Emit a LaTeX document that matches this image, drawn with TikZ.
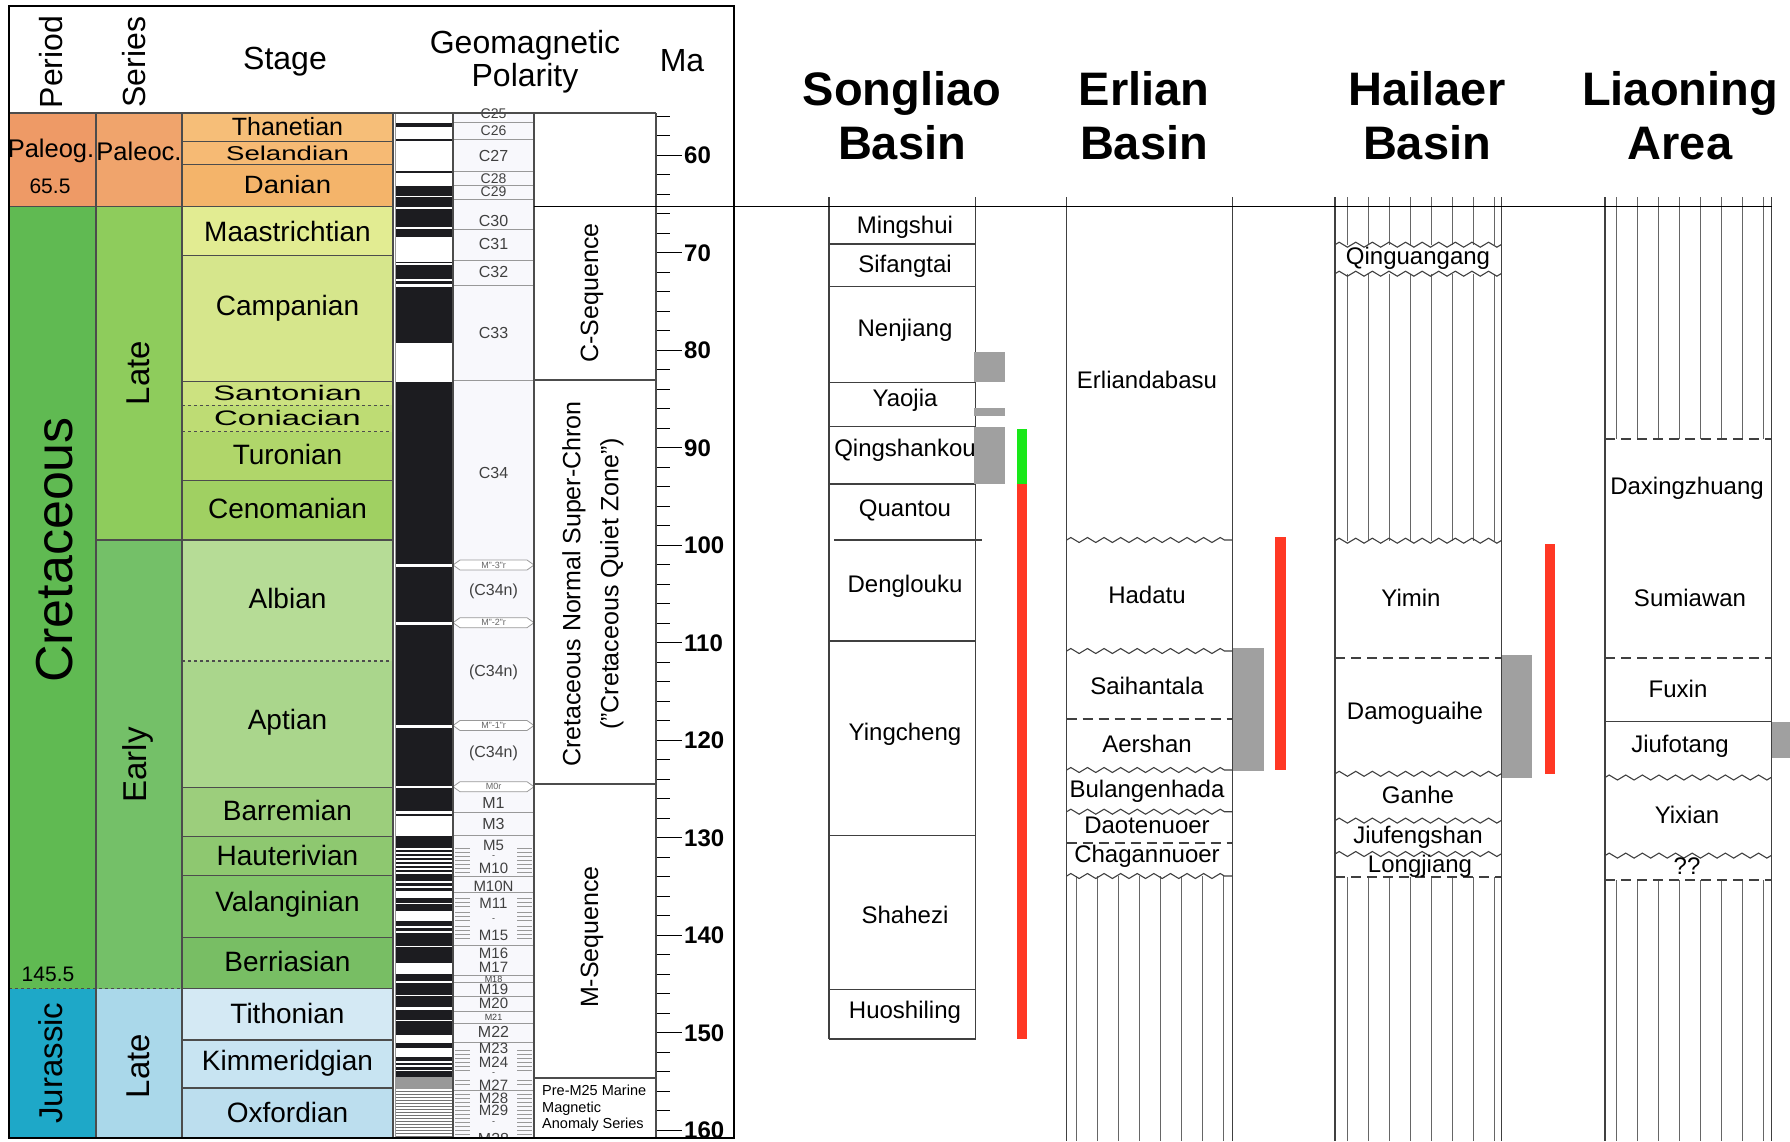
\documentclass[tikz,border=0pt]{standalone}
\usepackage{fontspec}
\setmainfont{Liberation Sans}
\usetikzlibrary{decorations.pathmorphing}

% Ma -> picture row
\newcommand{\ma}[1]{{155.3+((#1)-60)*9.75}}

\definecolor{perPg}{RGB}{238,154,102}
\definecolor{perK}{RGB}{96,186,82}
\definecolor{perJ}{RGB}{30,168,200}
\definecolor{serPc}{RGB}{240,164,108}
\definecolor{serLK}{RGB}{142,204,92}
\definecolor{serEK}{RGB}{116,192,104}
\definecolor{serLJ}{RGB}{170,216,234}
\definecolor{stThan}{RGB}{246,190,120}
\definecolor{stSel}{RGB}{246,186,116}
\definecolor{stDan}{RGB}{244,180,106}
\definecolor{stMaa}{RGB}{226,236,146}
\definecolor{stCam}{RGB}{214,230,140}
\definecolor{stSan}{RGB}{204,226,128}
\definecolor{stCon}{RGB}{190,220,116}
\definecolor{stTur}{RGB}{176,214,106}
\definecolor{stCen}{RGB}{160,208,98}
\definecolor{stAlb}{RGB}{182,220,150}
\definecolor{stApt}{RGB}{170,214,140}
\definecolor{stBar}{RGB}{156,206,124}
\definecolor{stHau}{RGB}{142,200,112}
\definecolor{stVal}{RGB}{130,196,106}
\definecolor{stBer}{RGB}{120,190,100}
\definecolor{stTit}{RGB}{212,233,244}
\definecolor{stKim}{RGB}{200,228,242}
\definecolor{stOxf}{RGB}{188,222,238}
\definecolor{polblack}{RGB}{28,28,32}
\definecolor{chronbg}{RGB}{248,248,252}
\definecolor{rangegray}{RGB}{160,160,160}
\definecolor{rangered}{RGB}{255,56,36}
\definecolor{rangegreen}{RGB}{24,232,24}

\tikzset{
  tabline/.style={line width=1.3pt, black!70},
  chronline/.style={line width=0.8pt, black!40},
  bedline/.style={line width=1.2pt, black!75},
  hatchline/.style={line width=0.8pt, black!60},
  wavy/.style={line width=1.1pt, black!75, decorate,
    decoration={zigzag, segment length=16.6pt, amplitude=2.5pt}},
  dashline/.style={line width=1.6pt, black!75, dash pattern=on 10pt off 6pt},
  headtext/.style={font=\fontsize{32}{33}\selectfont, inner sep=0pt, align=center},
  stagetext/.style={font=\fontsize{28}{28}\selectfont, inner sep=0pt},
  chrontext/.style={inner sep=0pt, text=black!75},
  seqtext/.style={font=\fontsize{25}{38}\selectfont, inner sep=0pt, align=center},
  matext/.style={font=\fontsize{24}{24}\selectfont\bfseries, inner sep=0pt, anchor=west},
  fmtext/.style={font=\fontsize{24}{24}\selectfont, inner sep=0pt},
  basintitle/.style={font=\fontsize{47}{54}\selectfont\bfseries, inner sep=0pt, align=center},
}

\begin{document}
\begin{tikzpicture}[x=1pt,y=-1pt]
\useasboundingbox (0,0) rectangle (1790,1141);
\fill[white] (0,0) rectangle (1790,1141);

% ---------- time scale ----------
\fill[perPg] (9,113) rectangle (96,206.6);
\fill[perK] (9,206.6) rectangle (96,988.6);
\fill[perJ] (9,988.6) rectangle (96,1138);
\fill[serPc] (96,113) rectangle (182,206.6);
\fill[serLK] (96,206.6) rectangle (182,540);
\fill[serEK] (96,540) rectangle (182,988.6);
\fill[serLJ] (96,988.6) rectangle (182,1138);

\foreach \t/\b/\c/\nm/\ly/\txt in {
    113/141.6/stThan/than/127/{\fontsize{25}{25}\selectfont Thanetian},
    141.6/164.4/stSel/sel/153/{\fontsize{20}{20}\selectfont\scalebox{1.38}[1]{Selandian}},
    164.4/206.6/stDan/dan/185/{\fontsize{25}{25}\selectfont\scalebox{1.1}[1]{Danian}},
    206.6/255.7/stMaa/maa/231/Maastrichtian,
    255.7/381.3/stCam/cam/308/Campanian,
    381.3/405.3/stSan/san/393/{\fontsize{21}{21}\selectfont\scalebox{1.57}[1]{Santonian}},
    405.3/431.5/stCon/con/418/{\fontsize{21}{21}\selectfont\scalebox{1.57}[1]{Coniacian}},
    431.5/480.6/stTur/tur/454/Turonian,
    480.6/540/stCen/cen/508/Cenomanian,
    540/661/stAlb/alb/598/Albian,
    661/787.7/stApt/apt/722/Aptian,
    787.7/836.8/stBar/bar/810/Barremian,
    836.8/875.6/stHau/hau/855/Hauterivian,
    875.6/937.3/stVal/val/904/Valanginian,
    937.3/988.6/stBer/ber/961/Berriasian,
    988.6/1040/stTit/tit/1013/Tithonian,
    1040/1088/stKim/kim/1063/Kimmeridgian,
    1088/1138/stOxf/oxf/1112/Oxfordian}
{
    \fill[\c] (182,\t) rectangle (393,\b);
    \node[stagetext] (st-\nm) at (287.5,\ly) {\txt};
}

\foreach \y in {141.6,164.4,206.6,255.7,381.3,480.6,540,787.7,836.8,875.6,937.3,988.6,1040,1088}
    \draw[tabline] (182,\y) -- (393,\y);
\foreach \y in {405.3,431.5,661}
    \draw[tabline,dashed] (182,\y) -- (393,\y);
\draw[tabline] (9,206.6) -- (182,206.6);
\draw[tabline] (96,540) -- (182,540);
\draw[tabline,dashed] (9,988.6) -- (182,988.6);
\foreach \x in {96,182,393}
    \draw[tabline] (\x,113) -- (\x,1138);

\node[font=\fontsize{25.5}{25.5}\selectfont, inner sep=0pt] (paleog) at (51,151) {Paleog.};
\node[font=\fontsize{21}{21}\selectfont, inner sep=0pt] (kpg) at (50,186) {65.5};
\node[font=\fontsize{25.5}{25.5}\selectfont, inner sep=0pt] (paleoc) at (139,151) {Paleoc.};
\node[font=\fontsize{52}{52}\selectfont, inner sep=0pt, rotate=90] (cret) at (55,550) {Cretaceous};
\node[font=\fontsize{21}{21}\selectfont, inner sep=0pt] (jk) at (48,974) {145.5};
\node[font=\fontsize{33}{33}\selectfont, inner sep=0pt, rotate=90] (jur) at (51,1063) {Jurassic};
\node[font=\fontsize{33}{33}\selectfont, inner sep=0pt, rotate=90] (latek) at (138,373) {Late};
\node[font=\fontsize{33}{33}\selectfont, inner sep=0pt, rotate=90] (early) at (138,765) {Early};
\node[font=\fontsize{33}{33}\selectfont, inner sep=0pt, rotate=90] (latej) at (138,1066) {Late};

% ---------- geomagnetic polarity ----------
\fill[white] (395,113) rectangle (452,1138);
\foreach \t/\b in {122.7/126.7,139/141,171/173.3,186/195.7,197.3/206.7,209.3/226.7,
    229/236.7,261.7/263.3,265/279,281/284,286.7/342.7,381.7/563.5,566.5/621.5,
    624.5/724.5,727.5/785.5,788/811,813.5/816,836/1076.5}
    \fill[polblack] (395,\t) rectangle (452,\b);
\foreach \t/\b in {848/849.5,852/853.5,856/857.5,860/861.5,864/865.5,868/869.5,
    872/873.5,881/882.5,886/887.5,891/897.5,902.5/904,911/921,926/927.5,931/932.5,
    945.5/947,963/974,981/982.5,994.5/996,1006.5/1010,1019.5/1021,1035/1043,
    1048/1056.5,1061/1062.5,1065/1066.5,1069.5/1071}
    \fill[white] (395,\t) rectangle (452,\b);
\fill[black!40] (395,1076.5) rectangle (452,1089);
\foreach \y in {1091,1094,...,1136}
    \fill[black!55] (395,\y) rectangle (452,{\y+1.3});
\draw[chronline] (395,113) rectangle (452,1138);

\fill[chronbg] (453,113) rectangle (534,1138);
\foreach \y in {122.7,139,171,185,199,229.3,260,285.3,380,812.3,835,876.7,892.7,
    945.7,975,982.7,996,1011.7,1023.3,1042.3,1090.7}
    \draw[chronline] (453,\y) -- (534,\y);
\foreach \y in {848,852,856,860,864,868,872,898,902,906,912,916,920,926,930,934,938,
    1050,1054,1058,1062,1066,1070,1080,1084,1094,1098,1102,1106,1110,1114,1118,1122,1126,1130,1134}
{
    \draw[chronline] (455,\y) -- (470,\y);
    \draw[chronline] (517,\y) -- (532,\y);
}
\foreach \y/\txt [count=\i] in {565/M"-3"r,622.7/M"-2"r,725.5/M"-1"r,786.7/M0r}
{
    \draw[chronline,fill=white] (453,\y) -- (460,{\y-5}) -- (527,{\y-5}) -- (534,\y)
        -- (527,{\y+5}) -- (460,{\y+5}) -- cycle;
    \node[font=\fontsize{9}{9}\selectfont, text=black!60, inner sep=0pt] (hex-\i) at (493.5,\y) {\txt};
}
\foreach \y/\txt/\s [count=\i] in {130.7/C26/14,156/C27/16,178.3/C28/14,
    191.7/C29/14,220.7/C30/16,244/C31/16,272.3/C32/16,332.7/C33/16,472.7/C34/16,
    591/(C34n)/16,672.3/(C34n)/16,753.3/(C34n)/16,803.3/M1/16,824.3/M3/16,
    845/M5/15,857.5/-/9,868.5/M10/15,886.7/M10N/15,903/M11/15,920/-/9,935/M15/15,
    953.3/M16/15,967.3/M17/15,979.3/M18/9,989.3/M19/15,1003.3/M20/15,1017.7/M21/9,
    1031.7/M22/16,1048/M23/15,1062/M24/15,1074/-/9,1085/M27/15,1098.3/M28/15,
    1110.5/M29/15,1123.5/-/9}
    \node[chrontext, font=\fontsize{\s}{\s}\selectfont] (chr-\i) at (493.5,\y) {\txt};
\node[chrontext, inner sep=1pt, fill=white, font=\fontsize{14}{14}\selectfont] (chr-top) at (493.5,114) {C25};
\begin{scope}
    \clip (453,1125) rectangle (534,1138);
    \node[chrontext, font=\fontsize{16}{16}\selectfont] (chr-end) at (493.5,1139) {M38};
\end{scope}

% ---------- sequences ----------
\foreach \y in {380,784,1078}
    \draw[tabline] (534,\y) -- (656,\y);
\node[seqtext, rotate=90] (cseq) at (592,293) {C-Sequence};
\node[seqtext, rotate=90] (cnsc) at (593,584) {Cretaceous Normal Super-Chron\\("Cretaceous Quiet Zone")};
\node[seqtext, rotate=90] (mseq) at (592,937) {M-Sequence};
\node[font=\fontsize{14.5}{16.5}\selectfont, inner sep=0pt, anchor=north west, align=left]
    (prem) at (542,1085) {Pre-M25 Marine\\Magnetic\\Anomaly Series};

% ---------- Ma axis ----------
\foreach \t in {56,58,...,160}
    \draw[tabline, black] (656,\ma{\t}) -- (670,\ma{\t});
\foreach \t in {60,70,...,160}
{
    \draw[tabline, black] (656,\ma{\t}) -- (682,\ma{\t});
    \node[matext] (ma\t) at (684,\ma{\t}) {\t};
}

% ---------- frame and header ----------
\draw[tabline] (453,113) -- (453,1138);
\draw[tabline] (534,113) -- (534,1138);
\draw[tabline] (656,113) -- (656,1138);
\draw[tabline] (9,113) -- (656,113);
\draw[tabline, black] (9,6) rectangle (734,1138);
\node[headtext, rotate=90] (hperiod) at (51,62) {Period};
\node[headtext, rotate=90] (hseries) at (134,62) {Series};
\node[headtext] (hstage) at (285,62) {Stage};
\node[headtext] (hpolar) at (525,62) {Geomagnetic\\Polarity};
\node[headtext] (hma) at (682,61) {Ma};

% ---------- basin titles ----------
\node[basintitle] (songliao) at (902,116) {Songliao\\Basin};
\node[basintitle] (erlian) at (1144,116) {Erlian\\Basin};
\node[basintitle] (hailaer) at (1427,116) {Hailaer\\Basin};
\node[basintitle] (liaoning) at (1680,116) {Liaoning\\Area};

% ---------- Songliao ----------
\draw[bedline] (829,197) -- (829,1039);
\draw[bedline] (975.7,197) -- (975.7,1039);
\foreach \y in {244,286.7,382.3,426.7,484,641,835.7,989.3,1039}
    \draw[bedline] (829,\y) -- (975.7,\y);
\draw[bedline] (834,540) -- (982,540);
\foreach \y/\txt [count=\i] in {227/Mingshui,266/Sifangtai,330/Nenjiang,400/Yaojia,
    450/Qingshankou,510/Quantou,586/Denglouku,734/Yingcheng,915/Shahezi,1012/Huoshiling}
    \node[fmtext] (sl-\i) at (905,\y) {\txt};
\fill[rangegray] (974,351.7) rectangle (1005,382.3);
\fill[rangegray] (974,407.7) rectangle (1005,416);
\fill[rangegray] (974,427.3) rectangle (1005,484.3);
\fill[rangegreen] (1016.7,429.3) rectangle (1026.7,484);
\fill[rangered] (1016.7,484) rectangle (1026.7,1039);

% ---------- Erlian ----------
\foreach \x in {1076,1097,...,1223}
    \draw[hatchline] (\x,876) -- (\x,1141);
\draw[bedline] (1066.7,197) -- (1066.7,1141);
\draw[bedline] (1232.3,197) -- (1232.3,1141);
\foreach \y in {540,651,770,811.7,876}
    \draw[wavy] (1066.7,\y) -- (1232.3,\y);
\foreach \y in {718.8,843}
    \draw[dashline] (1066.7,\y) -- (1232.3,\y);
\foreach \y/\txt [count=\i] in {380/Erliandabasu,595/Hadatu,686/Saihantala,744/Aershan,
    791/Bulangenhada,825/Daotenuoer,856/Chagannuoer}
    \node[fmtext] (el-\i) at (1147,\y) {\txt};
\fill[rangegray] (1233,648) rectangle (1263.5,771);
\fill[rangered] (1275,537) rectangle (1285.5,769.5);

% ---------- Hailaer ----------
\foreach \x in {1347,1368,...,1494}
{
    \draw[hatchline] (\x,197) -- (\x,244.7);
    \draw[hatchline] (\x,273.7) -- (\x,540.7);
    \draw[hatchline] (\x,877) -- (\x,1141);
}
\draw[bedline] (1335,197) -- (1335,1141);
\draw[bedline] (1501.7,197) -- (1501.7,1141);
\fill[white] (1336,247) rectangle (1501,271);
\foreach \y in {244.7,273.7,540.7,773.8,820.6,854}
    \draw[wavy] (1335,\y) -- (1501.7,\y);
\foreach \y in {657.7,877}
    \draw[dashline] (1335,\y) -- (1501.7,\y);
\foreach \x/\y/\txt [count=\i] in {1418/258/Qinguangang,1411/598/Yimin,1415/713.5/Damoguaihe,
    1418/795/Ganhe,1418/837/Jiufengshan,1420/866/Longjiang}
    \node[fmtext] (hl-\i) at (\x,\y) {\txt};
\fill[rangegray] (1502,654.6) rectangle (1532,777.5);
\fill[rangered] (1544.5,543.5) rectangle (1555,774);

% ---------- Liaoning ----------
\foreach \x in {1616,1637,...,1763}
{
    \draw[hatchline] (\x,197) -- (\x,439);
    \draw[hatchline] (\x,880) -- (\x,1141);
}
\draw[bedline] (1605,197) -- (1605,1141);
\draw[bedline] (1771.7,197) -- (1771.7,1141);
\foreach \y in {439,657.8,880}
    \draw[dashline] (1605,\y) -- (1771.7,\y);
\draw[bedline] (1605,721.6) -- (1771.7,721.6);
\foreach \y in {777.5,855.6}
    \draw[wavy] (1605,\y) -- (1771.7,\y);
\foreach \x/\y/\txt [count=\i] in {1687/488/Daxingzhuang,1690/598/Sumiawan,1678/689/Fuxin,
    1680/746/Jiufotang,1687/815/Yixian,1687/866/??}
    \node[fmtext] (ln-\i) at (\x,\y) {\txt};
\fill[rangegray] (1772,721.6) rectangle (1790,757.5);

% K/Pg line across the basins
\draw[tabline, black] (534,206.6) -- (1772,206.6);
\end{tikzpicture}
\end{document}
